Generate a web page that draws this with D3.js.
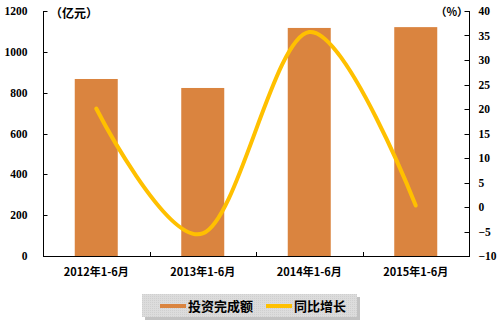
<!DOCTYPE html>
<html>
<head>
<meta charset="utf-8">
<script src="https://cdn.jsdelivr.net/npm/d3@7"></script>
<style>
  body { margin: 0; background: #fff; }
  svg text { font-family: "Noto Sans CJK SC", "DejaVu Sans", sans-serif; font-weight: bold; fill: #000; }
</style>
</head>
<body>
<svg width="502" height="324"></svg>
<script>
// chart data
var categories = ['2012年1-6月', '2013年1-6月', '2014年1-6月', '2015年1-6月'];
var investment = [867, 823, 1117, 1121];      // 投资完成额 (亿元)
var growth = [20.1, -5.4, 35.7, 0.3];          // 同比增长 (%)
var leftTicks = [0, 200, 400, 600, 800, 1000, 1200];
var rightTicks = [-10, -5, 0, 5, 10, 15, 20, 25, 30, 35, 40];
var seriesNames = ['投资完成额', '同比增长'];

var BAR = '#DA843F',
    LINE = '#FFC000';

var plotL = 43, plotR = 469, plotT = 11, plotB = 256;

var svg = d3.select('svg');

var xb = d3.scaleBand().domain(categories).range([plotL, plotR]);

var y = d3.scaleLinear().domain([0, 1200]).range([plotB, plotT]);
var y2 = d3.scaleLinear().domain([-10, 40]).range([plotB, plotT]);

function cx(i) { return xb(categories[i]) + xb.bandwidth() / 2; }

// bars
svg.append('g').selectAll('rect')
    .data(investment)
  .enter().append('rect')
    .attr('x', function(d, i) { return cx(i) - 21.5; })
    .attr('width', 43)
    .attr('y', function(d) { return y(d); })
    .attr('height', function(d) { return plotB - y(d); })
    .attr('fill', BAR);

// smoothed line
var line = d3.line()
    .curve(d3.curveCardinal.tension(0))
    .x(function(d, i) { return cx(i); })
    .y(function(d) { return y2(d); });

svg.append('path')
    .datum(growth)
    .attr('d', line)
    .attr('fill', 'none')
    .attr('stroke', LINE)
    .attr('stroke-width', 4)
    .attr('stroke-linecap', 'round');

// left axis
var axL = svg.append('g').attr('transform', 'translate(' + (plotL + 0.5) + ',0)');
axL.append('line').attr('y1', plotT).attr('y2', plotB).attr('stroke', '#000');
axL.selectAll('.t').data(leftTicks).enter().append('line')
    .attr('x1', 0).attr('x2', 4)
    .attr('y1', function(d) { return Math.round(y(d)) + 0.5; })
    .attr('y2', function(d) { return Math.round(y(d)) + 0.5; })
    .attr('stroke', '#000');
axL.selectAll('text').data(leftTicks).enter().append('text')
    .attr('x', -16).attr('y', function(d) { return y(d); })
    .attr('dy', '0.35em')
    .attr('text-anchor', 'end')
    .style('font-size', '11.5px')
    .style('font-family', '"Liberation Serif", serif')
    .text(function(d) { return d; });

// right axis
var axR = svg.append('g').attr('transform', 'translate(' + (plotR + 0.5) + ',0)');
axR.append('line').attr('y1', plotT).attr('y2', plotB).attr('stroke', '#000');
axR.selectAll('.t').data(rightTicks).enter().append('line')
    .attr('x1', -5).attr('x2', 0)
    .attr('y1', function(d) { return Math.round(y2(d)) + 0.5; })
    .attr('y2', function(d) { return Math.round(y2(d)) + 0.5; })
    .attr('stroke', '#000');
axR.selectAll('text').data(rightTicks).enter().append('text')
    .attr('x', 9).attr('y', function(d) { return y2(d); })
    .attr('dy', '0.35em')
    .style('font-size', '11.5px')
    .style('font-family', '"Liberation Serif", serif')
    .text(function(d) { return d < 0 ? '\u2212' + Math.abs(d) : d; });

// bottom axis
var axB = svg.append('g');
axB.append('line').attr('x1', plotL).attr('x2', plotR + 1)
    .attr('y1', plotB + 0.5).attr('y2', plotB + 0.5).attr('stroke', '#000');
axB.selectAll('.t').data(categories.slice(1)).enter().append('line')
    .attr('x1', function(d) { return Math.round(xb(d)) + 0.5; })
    .attr('x2', function(d) { return Math.round(xb(d)) + 0.5; })
    .attr('y1', plotB - 4).attr('y2', plotB)
    .attr('stroke', '#000');
axB.selectAll('text').data(categories).enter().append('text')
    .attr('x', function(d, i) { return cx(i); })
    .attr('y', 276)
    .attr('text-anchor', 'middle')
    .style('font-size', '11px')
    .text(function(d) { return d; });

// units
svg.append('text').attr('x', 50).attr('y', 18).style('font-size', '12px').text('（亿元）');
svg.append('text').attr('x', 468).attr('y', 16).attr('text-anchor', 'end')
    .style('font-size', '11px').text('（%）');

// legend
var defs = svg.append('defs');
var pat = defs.append('pattern').attr('id', 'dots')
    .attr('width', 2).attr('height', 2).attr('patternUnits', 'userSpaceOnUse');
pat.append('rect').attr('width', 2).attr('height', 2).attr('fill', '#DCDCDC');
pat.append('rect').attr('width', 1).attr('height', 1).attr('fill', '#CFCFCF');

var lg = svg.append('g');
lg.append('rect').attr('x', 145).attr('y', 297).attr('width', 215).attr('height', 23).attr('fill', '#9a9a9a').attr('opacity', 0.6);
lg.append('rect').attr('x', 142).attr('y', 294).attr('width', 215).attr('height', 23).attr('fill', 'url(#dots)');

var swatchX = [160, 266];
var textX = [188, 294];
seriesNames.forEach(function(name, i) {
    lg.append('rect').attr('x', swatchX[i]).attr('y', 304)
        .attr('width', 26).attr('height', 4)
        .attr('fill', i === 0 ? BAR : LINE);
    lg.append('text').attr('x', textX[i]).attr('y', 306).attr('dy', '0.36em')
        .style('font-size', '13px').text(name);
});
</script>
</body>
</html>
